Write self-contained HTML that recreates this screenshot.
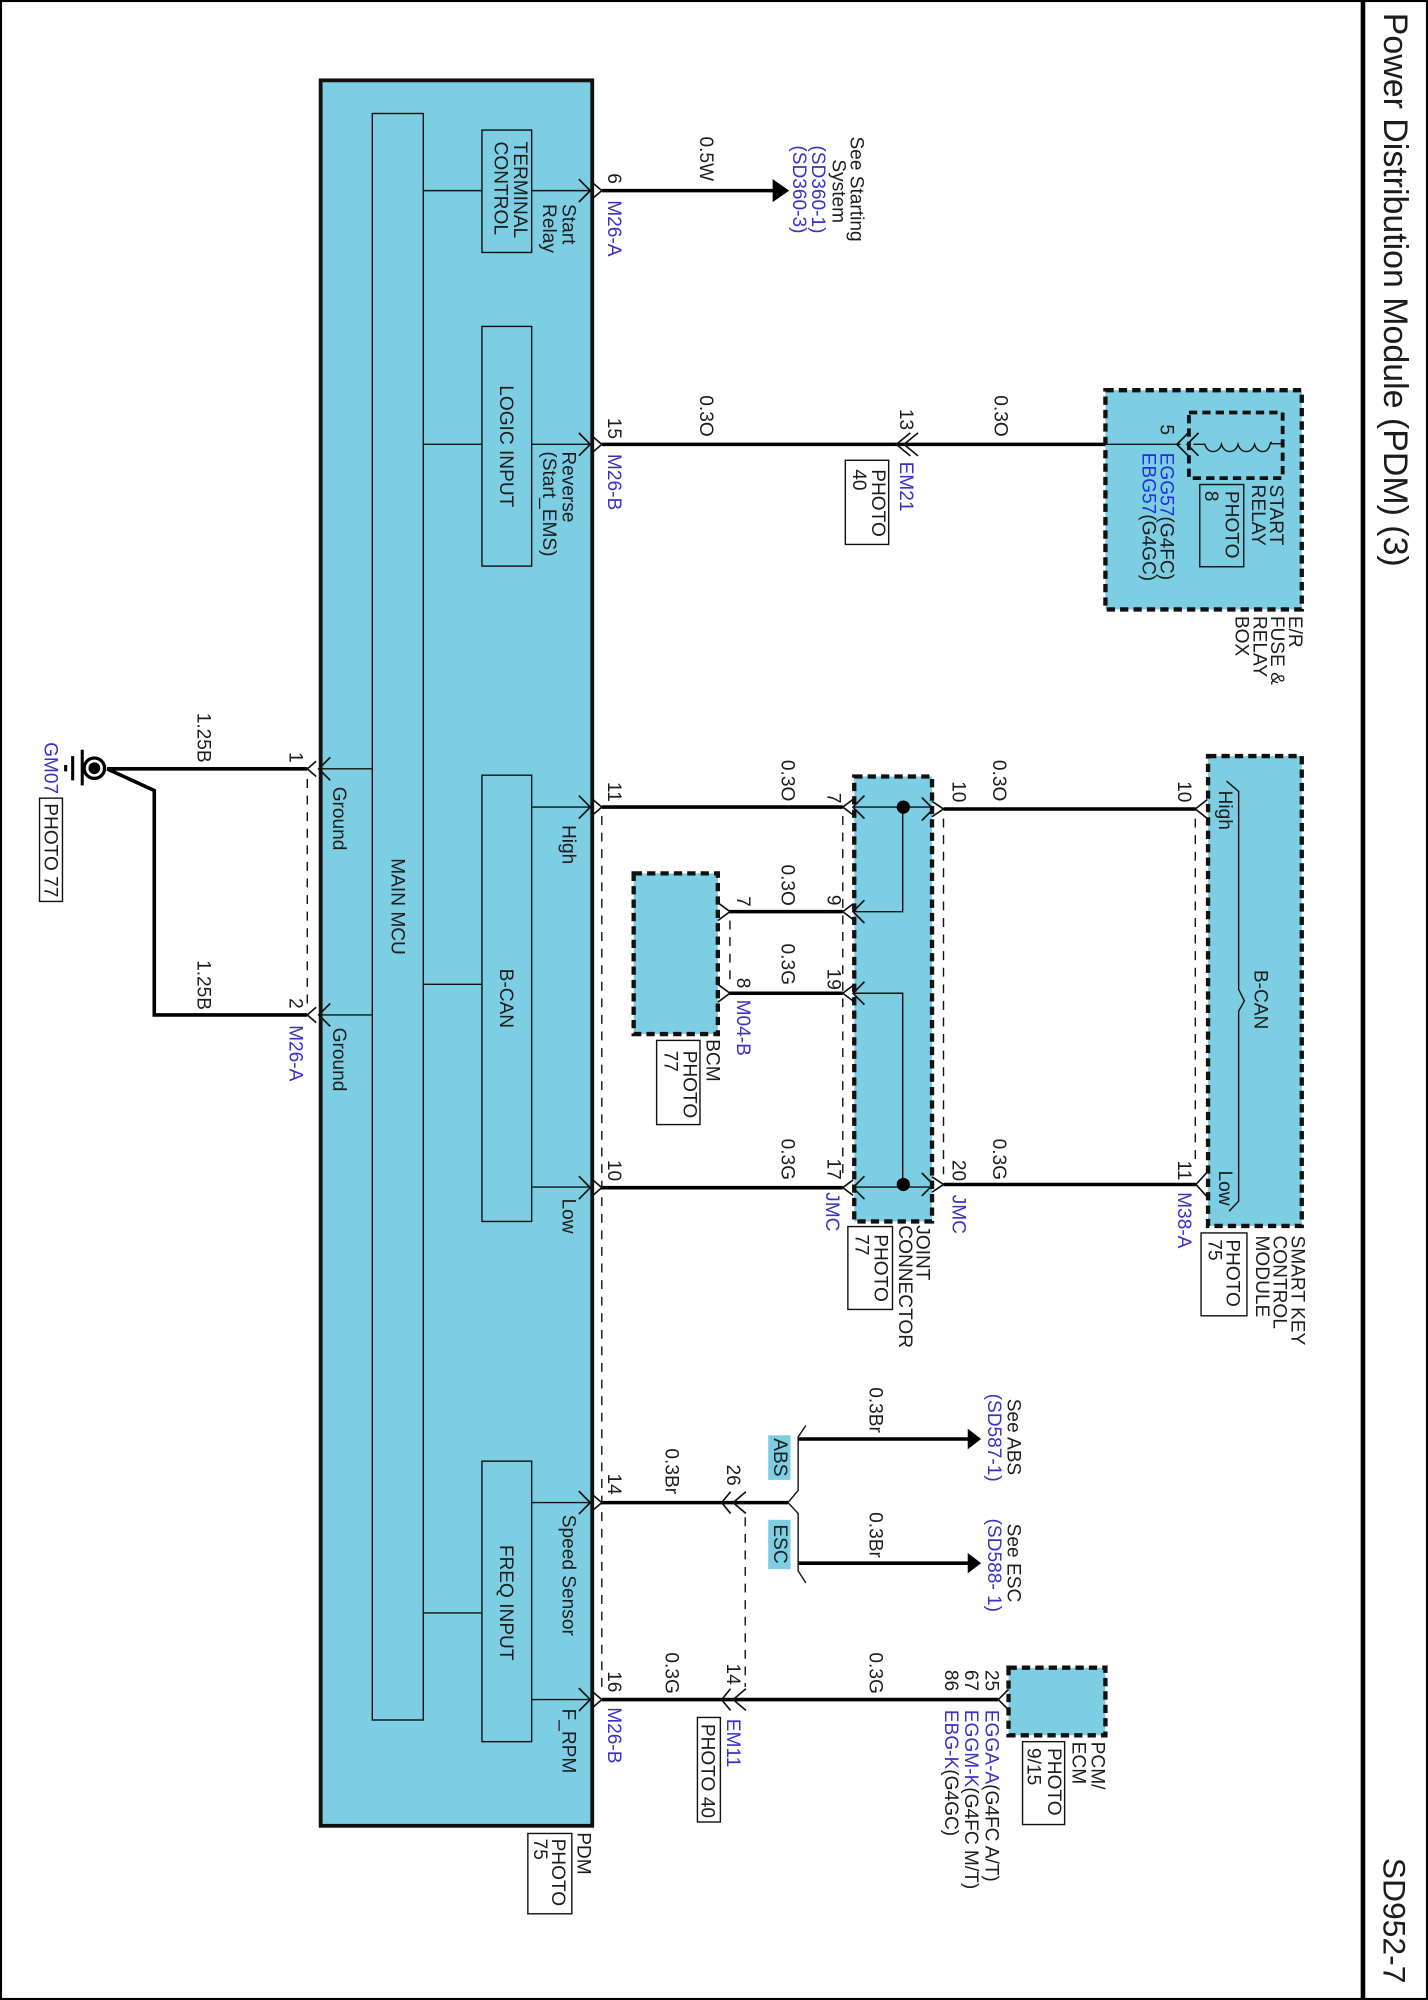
<!DOCTYPE html>
<html><head><meta charset="utf-8"><title>Power Distribution Module (PDM) (3)</title>
<style>
html,body{margin:0;padding:0;background:#fff}
svg{display:block}
text{font-family:"Liberation Sans",sans-serif;font-size:15px;fill:#1c1c1c}
.b{fill:#3a30c4}
.c{text-anchor:middle}
.thin{fill:none;stroke:#111;stroke-width:1.1}
.wire{fill:none;stroke:#000;stroke-width:2.8}
.ch{fill:none;stroke:#111;stroke-width:1.3}
.dash{fill:none;stroke:#111;stroke-width:1.1;stroke-dasharray:7 6}
.box{fill:#7dcde3;stroke:#111;stroke-width:1.1}
.dbox{fill:#7dcde3;stroke:#111;stroke-width:3.4;stroke-dasharray:6.5 4}
.pb{fill:none;stroke:#111;stroke-width:1.1}
</style></head>
<body>
<svg xmlns="http://www.w3.org/2000/svg" width="1428" height="2000" viewBox="0 0 1120 1568.6">
<rect width="1120" height="1568.6" fill="#fff"/>
<rect x="0.8" y="0.8" width="1118.4" height="1567" fill="none" stroke="#000" stroke-width="1.6"/>
<path d="M1069,0V1568" stroke="#000" stroke-width="3.6" fill="none"/>

<!-- Main PDM -->
<rect x="251.5" y="63" width="213" height="1369" fill="#7dcde3" stroke="#111" stroke-width="3"/>
<rect class="box" x="292" y="89" width="40" height="1260"/>
<rect class="box" x="378" y="102" width="39" height="96"/>
<rect class="box" x="378" y="256" width="39" height="188"/>
<rect class="box" x="378" y="608" width="39" height="350"/>
<rect class="box" x="378" y="1146" width="39" height="220"/>
<path class="thin" d="M332,149.5H378M417,149.5H463M332,348.5H378M417,348.5H463M332,772H378M417,633H463M417,931H463M332,1265H378M417,1178.5H463M417,1333H463M250,603H292M250,796H292"/>

<!-- other modules -->
<rect class="dbox" x="867" y="306" width="154" height="172"/>
<path d="M932.5,323.5H1006V375H932.5Z" fill="none" stroke="#111" stroke-width="3" stroke-dasharray="6.5 4"/>
<rect class="dbox" x="497" y="685" width="66" height="126"/>
<rect class="dbox" x="670" y="609" width="61" height="349"/>
<rect class="dbox" x="947.5" y="593" width="73.5" height="368.5"/>
<rect class="dbox" x="791" y="1308" width="76" height="53"/>
<rect x="602.5" y="1125.7" width="17.5" height="35" fill="#7dcde3"/>
<rect x="602.5" y="1192" width="17.5" height="38.7" fill="#7dcde3"/>

<!-- photo boxes -->
<g class="pb">
<rect class="pb" x="663" y="361" width="34" height="66"/>
<rect class="pb" x="941" y="380" width="34.5" height="64.5"/>
<rect class="pb" x="31" y="626" width="18" height="81" stroke-width="1.4"/>
<rect class="pb" x="515" y="816" width="34" height="66"/>
<rect class="pb" x="665" y="962" width="35" height="65"/>
<rect class="pb" x="942" y="967" width="36" height="65"/>
<rect class="pb" x="547" y="1347" width="18" height="82"/>
<rect class="pb" x="802" y="1366" width="33" height="65"/>
<rect class="pb" x="414" y="1438" width="34.5" height="63"/>
</g>

<!-- wires -->
<path class="wire" d="M472,149.5H610M472,348.5H867"/>
<path class="thin" d="M867,348.5H926"/>
<path class="wire" d="M84,603H241M84,603L121,620V796H241"/>
<path class="wire" d="M472,633H661M472,931.5H661M572,715H661M572,779H661M740,634.5H938M740,929H938" stroke-width="2.4"/>
<path class="wire" d="M472,1178.5H618M472,1333H783" stroke-width="2.4"/>
<path class="wire" d="M626,1128.6H760M626,1226H760" stroke-width="2.4"/>

<!-- arrowheads -->
<path d="M606,140.5L619,149.5L606,158.5Z M759,1120.5L769.5,1128.6L759,1136.7Z M759,1218L769.5,1226L759,1234Z" fill="#000"/>

<!-- joint internals -->
<path class="thin" d="M669,633H732M669,931H732M708,633V715H669M708,930V779H669"/>
<circle cx="708.5" cy="633" r="5.2" fill="#000"/>
<circle cx="708.5" cy="929" r="5.2" fill="#000"/>

<!-- chevrons right-pointing at PDM -->
<path class="ch" d="M454,140.5L463,149.5L454,158.5M465,143.5L472,149.5L465,155.5
M454,339.5L463,348.5L454,357.5M465,342.5L472,348.5L465,354.5
M454,624L463,633L454,642M465,627L472,633L465,639
M454,922.5L463,931.5L454,940.5M465,925.5L472,931.5L465,937.5
M454,1169.5L463,1178.5L454,1187.5M465,1172.5L472,1178.5L465,1184.5
M454,1324L463,1333L454,1342M465,1327L472,1333L465,1339"/>
<!-- left ground pins -->
<path class="ch" d="M259,594L250,603L259,612M248,597L241,603L248,609M259,787L250,796L259,805M248,790L241,796L248,802"/>
<!-- joint pins -->
<path class="ch" d="M669,627L661,633L669,639M678,624L669,633L678,642
M669,709L661,715L669,721M678,706L669,715L678,724
M669,773L661,779L669,785M678,770L669,779L678,788
M669,925.5L661,931.5L669,937.5M678,922.5L669,931.5L678,940.5
M723,625.5L732,634.5L723,643.5M731,628.5L740,634.5L731,640.5
M723,920L732,929L723,938M731,923L740,929L731,935"/>
<!-- BCM pins -->
<path class="ch" d="M563,708L572.5,715L563,722M563,772L572.5,779L563,786"/>
<!-- SKM pins -->
<path class="ch" d="M947,627L937.5,634.5L947,642M948,918L938,929L948,940"/>
<!-- ECM pin -->
<path class="ch" d="M791,1325L783,1333L791,1341"/>
<!-- double chevrons -->
<path class="ch" stroke-width="1.5" d="M714,339.5L703,348.5L714,357.5M720,339.5L709,348.5L720,357.5
M932,339.5L923,348.5L932,357.5M940,339.5L931,348.5L940,357.5
M573,1170L566,1178.5L573,1187M585,1170L575,1178.5L585,1187
M573,1324.5L566,1333L573,1341.5M585,1324.5L575,1333L585,1341.5"/>

<!-- coil -->
<path class="thin" d="M936,348.5H945C947,356 956,356 958,348.5C960,356 969,356 971,348.5C973,356 982,356 984,348.5C986,356 995,356 996,348.5L997,346.5V348H1006"/>

<!-- braces -->
<path class="thin" d="M962,612.6L971.5,620.7V776L976,785L971.5,793V942L964,950"/>
<path class="thin" d="M632,1118L626,1127V1169L618,1178.5L626,1187V1232L632,1241.5"/>

<!-- dashed -->
<path class="dash" d="M241,611V788M472,640V1326M661,640V925M740,642V921M572.5,722V772M937.5,642V910M584.5,1190V1323"/>

<!-- ground symbol -->
<circle cx="74" cy="602.5" r="8" fill="#fff" stroke="#000" stroke-width="2.6"/>
<circle cx="74" cy="602.5" r="4.6" fill="#000"/>
<path d="M64.5,588V616M57,593V612M51.5,600V605" stroke="#000" stroke-width="2.4" fill="none"/>

<!-- rotated text: x = page Y, y = -page X -->
<g transform="rotate(90)">
<text x="10" y="-1085.5" style="font-size:26.6px">Power Distribution Module (PDM) (3)</text>
<text x="1457" y="-1085" style="font-size:25px">SD952-7</text>

<text class="c" x="711" y="-307">MAIN MCU</text>
<text x="111" y="-403">TERMINAL</text>
<text x="111" y="-388">CONTROL</text>
<text class="c" x="350" y="-392">LOGIC INPUT</text>
<text class="c" x="783" y="-392">B-CAN</text>
<text class="c" x="1257" y="-392">FREQ INPUT</text>

<text x="160" y="-441">Start</text>
<text x="160" y="-426">Relay</text>
<text x="354" y="-441">Reverse</text>
<text x="354" y="-426">(Start_EMS)</text>
<text x="647" y="-441">High</text>
<text x="940" y="-441">Low</text>
<text x="1188" y="-441">Speed Sensor</text>
<text x="1340" y="-441">F_RPM</text>
<text x="617" y="-261">Ground</text>
<text x="806" y="-261">Ground</text>

<text class="c" x="140" y="-477">6</text>
<text class="b" x="157" y="-477">M26-A</text>
<text x="107" y="-549">0.5W</text>
<text x="107" y="-667">See Starting</text>
<text x="125" y="-653">System</text>
<text class="b" x="114" y="-637">(SD360-1)</text>
<text class="b" x="114" y="-622">(SD360-3)</text>

<text class="c" x="336" y="-477">15</text>
<text class="b" x="356" y="-477">M26-B</text>
<text x="310" y="-549">0.3O</text>
<text x="310" y="-780">0.3O</text>
<text class="c" x="329" y="-706">13</text>
<text class="b" x="362" y="-706">EM21</text>
<text x="368" y="-684">PHOTO</text>
<text x="368" y="-669">40</text>

<text class="c" x="337" y="-910">5</text>
<text x="380" y="-996">START</text>
<text x="380" y="-982">RELAY</text>
<text x="385" y="-961">PHOTO</text>
<text x="385" y="-945">8</text>
<text x="355" y="-910"><tspan style="fill:#2030dc">EGG57</tspan>(G4FC)</text>
<text x="355" y="-896"><tspan style="fill:#2030dc">EBG57</tspan>(G4GC)</text>
<text x="483" y="-1011">E/R</text>
<text x="483" y="-997">FUSE &amp;</text>
<text x="483" y="-983">RELAY</text>
<text x="483" y="-969">BOX</text>

<text x="559" y="-155">1.25B</text>
<text x="753" y="-155">1.25B</text>
<text class="c" x="594" y="-227">1</text>
<text class="c" x="787" y="-227">2</text>
<text class="b" x="804" y="-227">M26-A</text>
<text class="b" x="582" y="-35">GM07</text>
<text x="630" y="-35">PHOTO 77</text>

<text class="c" x="621" y="-477">11</text>
<text class="c" x="918" y="-477">10</text>
<text x="596" y="-613">0.3O</text>
<text x="678" y="-613">0.3O</text>
<text x="740" y="-613">0.3G</text>
<text x="893" y="-613">0.3G</text>
<text x="596" y="-779">0.3O</text>
<text x="893" y="-779">0.3G</text>
<text class="c" x="626" y="-649">7</text>
<text class="c" x="706" y="-649">9</text>
<text class="c" x="768" y="-649">19</text>
<text class="c" x="917" y="-649">17</text>
<text class="b" x="935" y="-648">JMC</text>
<text class="c" x="621" y="-747">10</text>
<text class="c" x="918" y="-747">20</text>
<text class="b" x="937" y="-747">JMC</text>
<text class="c" x="621" y="-924">10</text>
<text class="c" x="918" y="-924">11</text>
<text class="b" x="935" y="-924">M38-A</text>
<text class="c" x="707" y="-578">7</text>
<text class="c" x="771" y="-578">8</text>
<text class="b" x="784" y="-578">M04-B</text>
<text x="815" y="-554">BCM</text>
<text x="824" y="-536">PHOTO</text>
<text x="824" y="-521">77</text>
<text x="961" y="-719">JOINT</text>
<text x="961" y="-705">CONNECTOR</text>
<text x="968" y="-686">PHOTO</text>
<text x="968" y="-671">77</text>
<text x="969" y="-1013">SMART KEY</text>
<text x="969" y="-999">CONTROL</text>
<text x="969" y="-985">MODULE</text>
<text x="972" y="-962">PHOTO</text>
<text x="972" y="-948">75</text>
<text x="620" y="-956">High</text>
<text x="918" y="-956">Low</text>
<text class="c" x="784" y="-984">B-CAN</text>

<text x="1136" y="-522">0.3Br</text>
<text x="1296" y="-522">0.3G</text>
<text class="c" x="1164" y="-477">14</text>
<text class="c" x="1319" y="-477">16</text>
<text class="b" x="1339" y="-477">M26-B</text>
<text class="c" x="1157" y="-570">26</text>
<text class="c" x="1313" y="-570">14</text>
<text class="b" x="1348" y="-570">EM11</text>
<text x="1352" y="-550">PHOTO 40</text>
<text class="c" x="1143" y="-607">ABS</text>
<text class="c" x="1211" y="-607">ESC</text>
<text x="1088" y="-682">0.3Br</text>
<text x="1186" y="-682">0.3Br</text>
<text x="1296" y="-682">0.3G</text>
<text x="1097" y="-790">See ABS</text>
<text class="b" x="1093" y="-775">(SD587-1)</text>
<text x="1195" y="-790">See ESC</text>
<text class="b" x="1191" y="-775">(SD588- 1)</text>
<text class="c" x="1318" y="-773">25</text>
<text class="c" x="1318" y="-757">67</text>
<text class="c" x="1318" y="-741">86</text>
<text x="1341" y="-773"><tspan class="b">EGGA-A</tspan>(G4FC A/T)</text>
<text x="1341" y="-757"><tspan class="b">EGGM-K</tspan>(G4FC M/T)</text>
<text x="1341" y="-741"><tspan class="b">EBG-K</tspan>(G4GC)</text>
<text x="1366" y="-856">PCM/</text>
<text x="1366" y="-841">ECM</text>
<text x="1371" y="-822">PHOTO</text>
<text x="1371" y="-806">9/15</text>
<text x="1437" y="-453">PDM</text>
<text x="1442" y="-433">PHOTO</text>
<text x="1442" y="-419">75</text>
</g>
</svg>
</body></html>
